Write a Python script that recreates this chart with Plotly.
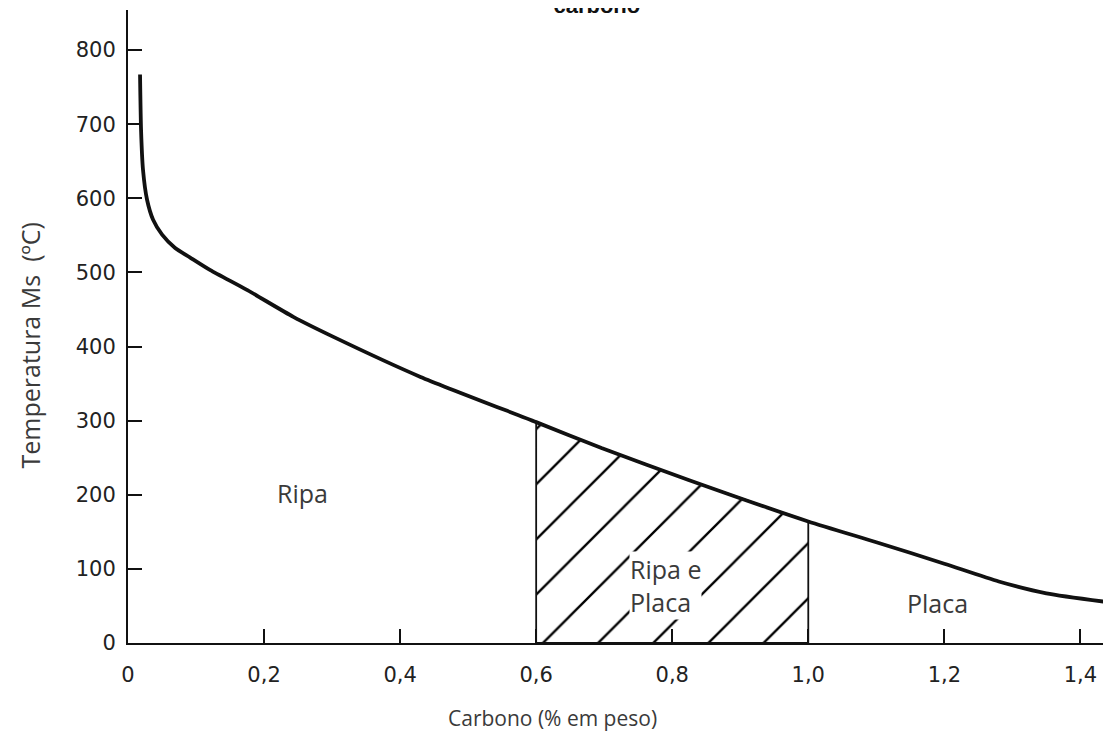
import plotly.graph_objects as go

# Curve: Ms temperature vs carbon content
carbono = [0.0177, 0.0192, 0.0221, 0.028, 0.0369, 0.0501, 0.0693, 0.0914, 0.121, 0.1755,
           0.243, 0.302, 0.43, 0.6, 0.696, 0.824, 1.0, 1.1, 1.2, 1.28, 1.35, 1.45]
temperatura = [767, 692, 638, 598, 571, 551, 533, 520, 503, 476,
               440, 413, 359, 298, 263, 220, 164, 136, 107, 83, 67, 54]

# Mixed region limits (% C)
regiao_ini = 0.6
regiao_fim = 1.0

# Axis ticks
x_ticks = [0, 0.2, 0.4, 0.6, 0.8, 1.0, 1.2, 1.4]
x_ticktext = ["0", "0,2", "0,4", "0,6", "0,8", "1,0", "1,2", "1,4"]
y_ticks = [0, 100, 200, 300, 400, 500, 600, 700, 800]

# Region labels
rotulos = ["Ripa", "Ripa e<br>Placa", "Placa"]
rotulos_x = [0.257, 0.79, 1.19]
rotulos_y = [202, 78, 54]

# Hatched polygon from the curve points inside the region
reg = [(c, t) for c, t in zip(carbono, temperatura) if regiao_ini <= c <= regiao_fim]
poly_x = [regiao_ini] + [c for c, _ in reg] + [regiao_fim, regiao_ini]
poly_y = [0] + [t for _, t in reg] + [0, 0]

fig = go.Figure()
fig.add_trace(go.Scatter(
    x=poly_x, y=poly_y, mode="lines", fill="toself",
    fillcolor="rgba(255,255,255,0)",
    fillpattern=dict(shape="/", size=39, solidity=0.06, fgcolor="#000", fgopacity=1,
                     bgcolor="rgba(255,255,255,0)"),
    line=dict(color="#111", width=1.8), showlegend=False, hoverinfo="skip"))
fig.add_trace(go.Scatter(
    x=carbono, y=temperatura, mode="lines",
    line=dict(color="#111", width=3.8, shape="spline", smoothing=0.6),
    showlegend=False))

txtfont = dict(family="Open Sans, Noto Sans, sans-serif", size=25, color="#3a3a3a")
for t, x, y in zip(rotulos, rotulos_x, rotulos_y):
    fig.add_annotation(x=x, y=y, text=t, showarrow=False, font=txtfont,
                       bgcolor="white" if "<br>" in t else None, align="left", borderpad=0)

# Axis titles
fig.add_annotation(xref="paper", yref="paper", x=0.432, y=0, yshift=-75, yanchor="middle",
                   text="Carbono (% em peso)", showarrow=False,
                   font=dict(family="Open Sans, Noto Sans, sans-serif", size=21, color="#3a3a3a"))
fig.add_annotation(xref="paper", yref="paper", x=0, xshift=-98, y=0.47, xanchor="center",
                   yanchor="middle", textangle=-90, text="Temperatura Ms  (ºC)", showarrow=False,
                   font=dict(family="Open Sans, Noto Sans, sans-serif", size=25, color="#3a3a3a"))

tickfont = dict(family="DejaVu Sans", size=21, color="#222")
fig.update_layout(
    width=1111, height=738,
    margin=dict(l=120, r=8, t=2, b=103, autoexpand=False),
    paper_bgcolor="white", plot_bgcolor="white",
    title=dict(text="<b>carbono</b>", x=0.53, xanchor="center", y=0.993, yanchor="bottom",
               yref="container", automargin=False,
               font=dict(family="Liberation Sans, Arial", size=22, color="#111")),
    xaxis=dict(range=[0, 1.445], tickvals=x_ticks, ticktext=x_ticktext, automargin=False,
               showline=True, linecolor="#111", linewidth=2, ticks="inside", ticklen=14,
               tickwidth=1.5, tickcolor="#111", showgrid=False, zeroline=False,
               tickfont=tickfont, ticklabelstandoff=12),
    yaxis=dict(range=[0, 854], tickvals=y_ticks, automargin=False,
               showline=True, linecolor="#111", linewidth=2, ticks="inside", ticklen=14,
               tickwidth=1.5, tickcolor="#111", showgrid=False, zeroline=False,
               tickfont=tickfont, ticklabelstandoff=6),
)

fig.write_html("out.html")
